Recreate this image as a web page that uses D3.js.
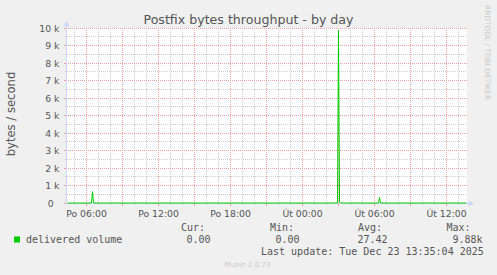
<!DOCTYPE html>
<html><head><meta charset="utf-8">
<script src="https://cdn.jsdelivr.net/npm/d3@7"></script>
<style>
body{margin:0;background:#f0f0f0;}
svg{display:block;}
text{white-space:pre;}
</style>
</head><body>
<svg id="c" width="497" height="275"></svg>
<script>
// ---- data ----
const timeDomain = ["2025-12-22 04:22:30", "2025-12-23 13:42:30"];
const times = ["2025-12-22 04:25:00","2025-12-22 06:25:00","2025-12-22 06:30:00","2025-12-22 06:35:00",
               "2025-12-23 02:55:00","2025-12-23 03:00:00","2025-12-23 03:05:00","2025-12-23 03:10:00",
               "2025-12-23 06:20:00","2025-12-23 06:25:00","2025-12-23 06:30:00","2025-12-23 13:40:00"];
const values = [0,0,645,0, 0,9880,60,0, 0,310,0,0];
const yTickValues = [0,1000,2000,3000,4000,5000,6000,7000,8000,9000,10000];
const yTickLabels = ["0  ","1 k","2 k","3 k","4 k","5 k","6 k","7 k","8 k","9 k","10 k"];
const xTickTimes = ["2025-12-22 06:00:00","2025-12-22 12:00:00","2025-12-22 18:00:00",
                    "2025-12-23 00:00:00","2025-12-23 06:00:00","2025-12-23 12:00:00"];
const xTickLabels = ["Po 06:00","Po 12:00","Po 18:00","Út 00:00","Út 06:00","Út 12:00"];
const title = "Postfix bytes throughput - by day";
const yAxisLabel = "bytes / second";
const seriesName = "delivered volume";
const statHeads = ["Cur:","Min:","Avg:","Max:"];
const statValues = ["0.00","0.00","27.42","9.88k"];
const lastUpdate = "Last update: Tue Dec 23 13:35:04 2025";
const footer = "Munin 2.0.73";
const sideText = "RRDTOOL / TOBI OETIKER";

// ---- drawing ----
const parse = d3.timeParse("%Y-%m-%d %H:%M:%S");
const svg = d3.select("#c");
const L = 67, R = 467, T = 28, B = 203;
const x = d3.scaleTime().domain(timeDomain.map(parse)).range([L, R]);
const y = d3.scaleLinear().domain([0, 10000]).range([B, T]);
const FONT = "#555";
const MAJ = "#eaa0a0", MIN = "#cfcfcf", AXIS = "#cfd6f8", GREEN = "#00cc00";

svg.append("rect").attr("width",497).attr("height",275).attr("fill","#f0f0f0");
svg.append("rect").attr("x",L).attr("y",T).attr("width",R-L).attr("height",B-T).attr("fill","#fff");

const px = v => Math.floor(v) + 0.5;
const g = svg.append("g");
// minor horizontal grid (every 500)
const yMinor = d3.range(500, 10000, 1000);
g.selectAll(".hmin").data(yMinor).join("line")
  .attr("x1",L-2).attr("x2",R).attr("y1",d=>px(y(d))).attr("y2",d=>px(y(d)))
  .attr("stroke",MIN).attr("stroke-dasharray","1,1");
// minor vertical grid (hourly)
const hours = d3.timeHour.range(x.domain()[0], x.domain()[1]).filter(d => d.getHours() % 3 !== 0);
g.selectAll(".vmin").data(hours).join("line")
  .attr("x1",d=>px(x(d))).attr("x2",d=>px(x(d))).attr("y1",T).attr("y2",B+2)
  .attr("stroke",MIN).attr("stroke-dasharray","1,1");
// major horizontal grid
g.selectAll(".hmaj").data(yTickValues.filter(d=>d>0)).join("line")
  .attr("x1",L-3).attr("x2",R).attr("y1",d=>px(y(d))).attr("y2",d=>px(y(d)))
  .attr("stroke",MAJ).attr("stroke-dasharray","1,1");
// major vertical grid (every 3h)
const h3 = d3.timeHour.range(x.domain()[0], x.domain()[1]).filter(d => d.getHours() % 3 === 0);
g.selectAll(".vmaj").data(h3).join("line")
  .attr("x1",d=>px(x(d))).attr("x2",d=>px(x(d))).attr("y1",T).attr("y2",B+3)
  .attr("stroke",MAJ).attr("stroke-dasharray","1,1");
// solid ticks below axis
g.selectAll(".vtick").data(h3).join("line")
  .attr("x1",d=>px(x(d))).attr("x2",d=>px(x(d))).attr("y1",B).attr("y2",B+3)
  .attr("stroke",MAJ);
g.selectAll(".htick").data(yTickValues).join("line")
  .attr("x1",L-3).attr("x2",L).attr("y1",d=>px(y(d))).attr("y2",d=>px(y(d)))
  .attr("stroke",MAJ);

// axes
svg.append("line").attr("x1",66.5).attr("x2",66.5).attr("y1",24).attr("y2",B+0.5).attr("stroke",AXIS);
svg.append("line").attr("x1",66).attr("x2",470).attr("y1",203.5).attr("y2",203.5).attr("stroke",AXIS);
svg.append("path").attr("d","M63.5,26.5 L66.5,20.5 L69.5,26.5 Z").attr("fill",AXIS);
svg.append("path").attr("d","M468.5,200.5 L474.5,203.5 L468.5,206.5 Z").attr("fill",AXIS);

// data line
const pts = times.map((t,i)=>[parse(t), values[i]]);
const line = d3.line().x(d=>Math.round(x(d[0])-0.5)+0.5).y(d=>y(d[1]));
svg.append("path").datum(pts).attr("d",line).attr("fill","none").attr("stroke",GREEN).attr("stroke-width",1);

// y tick labels
svg.selectAll(".yl").data(yTickValues).join("text")
  .attr("x",59.5).attr("y",d=>Math.floor(y(d))+4)
  .attr("text-anchor","end").attr("font-family","DejaVu Sans").attr("font-size",9.3).attr("fill",FONT)
  .text((d,i)=>yTickLabels[i]);
// x tick labels
svg.selectAll(".xl").data(xTickTimes).join("text")
  .attr("x",d=>px(x(parse(d)))).attr("y",216.5)
  .attr("text-anchor","middle").attr("font-family","DejaVu Sans").attr("font-size",9.3).attr("fill",FONT)
  .text((d,i)=>xTickLabels[i]);

// title
svg.append("text").attr("x",248.5).attr("y",23.5).attr("text-anchor","middle")
  .attr("font-family","DejaVu Sans").attr("font-size",12.6).attr("fill",FONT).text(title);
// y axis label
svg.append("text").attr("transform","translate(15,114) rotate(-90)").attr("text-anchor","middle")
  .attr("font-family","DejaVu Sans").attr("font-size",11.6).attr("fill",FONT).text(yAxisLabel);
// side text
svg.append("text").attr("transform","translate(484.5,5) rotate(90)").attr("text-anchor","start")
  .attr("font-family","DejaVu Sans").attr("font-size",7.4).attr("fill","#c8c8c8").text(sideText);

// legend
const mono = sel => sel.attr("font-family","DejaVu Sans Mono").attr("font-size",10).attr("fill",FONT);
svg.append("rect").attr("x",14).attr("y",236.5).attr("width",6).attr("height",6).attr("fill",GREEN);
mono(svg.append("text").attr("x",26).attr("y",242.5)).text(seriesName);
const headX = [181, 270, 358, 446.5];
const valX = [186.5, 275.5, 357.5, 452.5];
statHeads.forEach((h,i)=>{ mono(svg.append("text").attr("x",headX[i]).attr("y",230.5)).text(h); });
statValues.forEach((v,i)=>{ mono(svg.append("text").attr("x",valX[i]).attr("y",242.5)).text(v); });
mono(svg.append("text").attr("x",261).attr("y",254.5)).text(lastUpdate);
svg.append("text").attr("x",247.5).attr("y",266.5).attr("text-anchor","middle")
  .attr("font-family","DejaVu Sans").attr("font-size",7).attr("fill","#c8c8c8").text(footer);
</script>
</body></html>
